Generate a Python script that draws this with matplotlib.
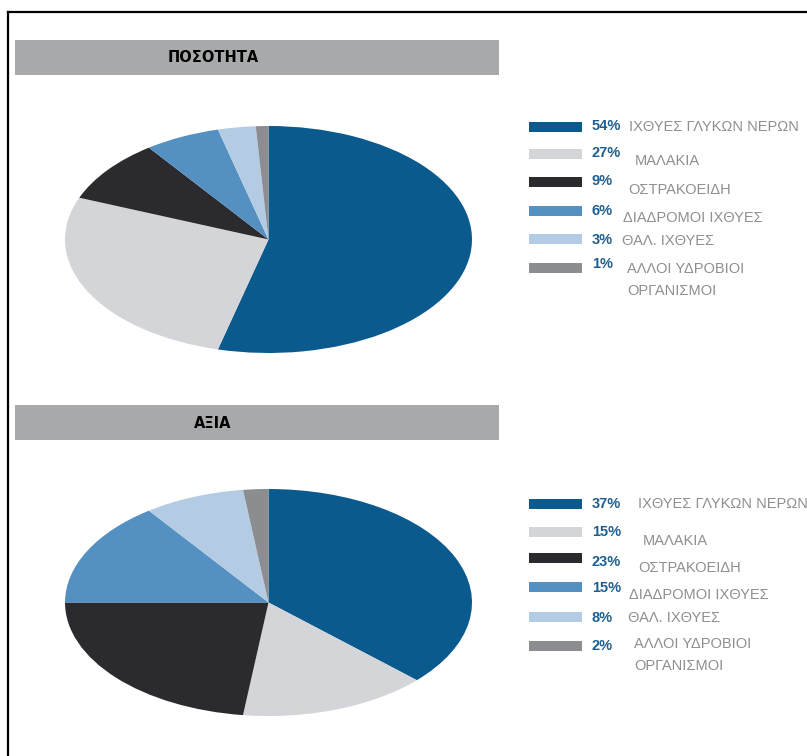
import matplotlib
matplotlib.use("Agg")
from matplotlib import pyplot as plt
from matplotlib.patches import Rectangle
from matplotlib.lines import Line2D

# data
categories = ["ΙΧΘΥΕΣ ΓΛΥΚΩΝ ΝΕΡΩΝ", "ΜΑΛΑΚΙΑ", "ΟΣΤΡΑΚΟΕΙΔΗ",
              "ΔΙΑΔΡΟΜΟΙ ΙΧΘΥΕΣ", "ΘΑΛ. ΙΧΘΥΕΣ", "ΑΛΛΟΙ ΥΔΡΟΒΙΟΙ\nΟΡΓΑΝΙΣΜΟΙ"]
quantity = [54, 27, 9, 6, 3, 1]
value = [37, 15, 23, 15, 8, 2]
titles = ["ΠΟΣΟΤΗΤΑ", "ΑΞΙΑ"]

colors = ["#0b5a8e", "#d4d5d8", "#2b2a2e", "#5590c2", "#b3cce3", "#8c8d90"]
pct_color = "#1f5f8f"
label_color = "#8f8f8f"

W, H = 807, 756
fig = plt.figure(figsize=(W / 100, H / 100), dpi=100)
fig.patch.set_facecolor("white")


def fx(x):
    return x / W


def fy(y):
    return 1 - y / H


# frame lines (left and top)
fig.add_artist(Line2D([fx(8), fx(8)], [fy(12), fy(756)], color="black", lw=1.6))
fig.add_artist(Line2D([fx(8), fx(807)], [fy(12), fy(12)], color="black", lw=1.6))

# layout for each panel: header bar top, pie box, legend rows
panels = [
    dict(data=quantity, title=titles[0], bar_y=40, pie_top=126, pie_bot=353,
         rows=[127, 154, 182, 211, 239, 268],
         pct_y=[126, 153, 181, 211, 240, 264],
         lab_x=[629, 635, 628, 623, 622, 627],
         lab_y=[127, 161, 190, 218, 241, 280]),
    dict(data=value, title=titles[1], bar_y=405, pie_top=489, pie_bot=716,
         rows=[504, 532, 558, 587, 617, 646],
         pct_y=[504, 532, 562, 588, 618, 646],
         lab_x=[638, 643, 638, 629, 628, 634],
         lab_y=[504, 541, 568, 595, 618, 655]),
]

for p in panels:
    # grey header bar
    fig.add_artist(Rectangle((fx(15), fy(p["bar_y"] + 35)), fx(499) - fx(15), 35 / H,
                             facecolor="#a8a9ab", edgecolor="none"))
    fig.text(fx(213), fy(p["bar_y"] + 18), p["title"], ha="center", va="center",
             fontsize=10.5, fontweight="bold", color="black", family="DejaVu Sans")

    # pie drawn as stretched ellipse
    ax = fig.add_axes([fx(65), fy(p["pie_bot"]), (472 - 65) / W,
                       (p["pie_bot"] - p["pie_top"]) / H])
    ax.pie(p["data"], colors=colors, startangle=90, counterclock=False,
           wedgeprops=dict(linewidth=0))
    ax.set_aspect("auto")
    ax.set_xlim(-1, 1)
    ax.set_ylim(-1, 1)
    ax.axis("off")

    # legend
    for i, cat in enumerate(categories):
        y = p["rows"][i]
        fig.add_artist(Rectangle((fx(529), fy(y + 5)), 53 / W, 10 / H,
                                 facecolor=colors[i], edgecolor="none"))
        fig.text(fx(592), fy(p["pct_y"][i]), f"{p['data'][i]}%", ha="left",
                 va="center", fontsize=10.5, fontweight="bold", color=pct_color,
                 family="Liberation Sans")
        fig.text(fx(p["lab_x"][i]), fy(p["lab_y"][i]), cat, ha="left",
                 va="center", fontsize=10.5, color=label_color,
                 family="Liberation Sans", linespacing=1.8)

fig.savefig("out.png", dpi=100, facecolor="white")
